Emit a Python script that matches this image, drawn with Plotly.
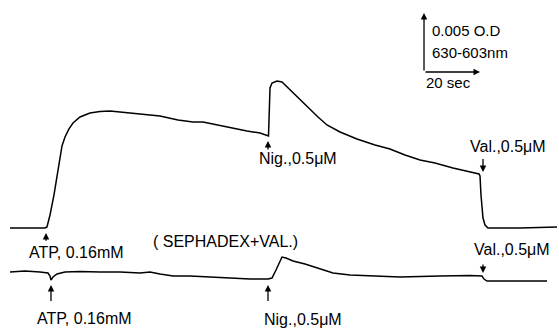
import plotly.graph_objects as go

# ---- data (time in s, absorbance change in units of 0.001 O.D.) ----
top_t = [0, 7.14, 12.5, 13.21, 14.29, 15.71, 16.79, 17.86, 18.57, 19.64, 21.07, 22.5, 25.0, 28.57,
         32.14, 35.71, 39.29, 42.86, 46.43, 50.0, 53.57, 60.0, 65.36, 68.93, 73.93, 79.64, 84.64,
         89.29, 91.79, 92.32, 92.5, 92.86, 93.57, 95.36, 97.14, 100.0, 102.86, 106.07, 110.0,
         113.21, 117.86, 123.93, 130.36, 135.71, 141.07, 146.43, 151.79, 158.21, 164.29, 167.5,
         167.86, 168.21, 168.93, 169.64, 170.71, 182.14, 195.36]
top_a = [8.62, 8.62, 8.62, 8.71, 9.74, 11.47, 12.93, 14.66, 15.69, 16.47, 17.16, 17.67, 18.19, 18.53,
         18.66, 18.71, 18.62, 18.53, 18.45, 18.36, 18.28, 17.93, 17.76, 17.76, 17.5, 17.24, 16.98,
         16.81, 16.55, 16.55, 17.93, 20.69, 21.12, 21.29, 21.21, 20.52, 19.83, 19.05, 18.19,
         17.5, 16.9, 16.29, 15.78, 15.43, 14.91, 14.48, 14.22, 13.79, 13.45, 13.28,
         13.1, 11.47, 9.48, 8.88, 8.62, 8.62, 8.71]

bot_t = [0, 5.36, 10.71, 13.57, 14.29, 14.64, 15.36, 16.79, 19.64, 25.0, 32.14, 39.29, 46.43, 50.0,
         53.57, 58.21, 64.29, 70.36, 75.0, 79.64, 85.71, 92.14, 93.57, 95.0, 96.43, 97.14, 98.57,
         101.07, 105.36, 109.64, 115.36, 121.43, 128.57, 139.29, 153.57, 164.29, 168.57, 169.29,
         170.36, 175.0, 182.14, 191.79]
bot_a = [4.83, 4.91, 4.83, 4.74, 4.48, 4.14, 4.40, 4.66, 4.83, 4.87, 4.83, 4.83, 4.74, 4.83,
         4.66, 4.48, 4.48, 4.40, 4.40, 4.31, 4.22, 4.22, 4.31, 5.0, 5.69, 6.12, 6.03,
         5.78, 5.52, 5.17, 4.74, 4.57, 4.48, 4.40, 4.48, 4.53, 4.48, 4.22,
         4.05, 4.05, 4.01, 4.05]

# additions: time, arrow tail A, arrow tip A, label, label time, label A
top_events_t = [12.86, 92.14, 168.93]
top_tail_a = [7.4, 15.25, 14.7]
top_tip_a = [8.19, 16.12, 13.45]
top_labels = ["ATP, 0.16mM", "Nig.,0.5μM", "Val.,0.5μM"]
top_label_t = [23.9, 103.0, 178.0]
top_label_a = [6.5, 14.6, 15.65]

bot_events_t = [14.64, 92.14, 168.93]
bot_tail_a = [2.2, 2.2, 5.60]
bot_tip_a = [3.71, 3.71, 4.74]
bot_labels = ["ATP, 0.16mM", "Nig.,0.5μM", "Val.,0.5μM"]
bot_label_t = [26.6, 104.6, 179.3]
bot_label_a = [0.8, 0.7, 6.75]

cond_label = "( SEPHADEX+VAL.)"
cond_pos = (77.1, 7.5)

# scale bar: 0.005 O.D. (5 units) and 20 s
bar_origin = (147.86, 22.07)
bar_od = 5.09
bar_sec = 20
bar_texts = ["0.005 O.D", "630-603nm", "20 sec"]

FONT = dict(family="Liberation Sans", size=16, color="black")
FONT_BAR = dict(family="Liberation Sans", size=15, color="black")

fig = go.Figure()
fig.add_trace(go.Scatter(x=top_t, y=top_a, mode="lines",
                         line=dict(color="black", width=1.5), hoverinfo="skip"))
fig.add_trace(go.Scatter(x=bot_t, y=bot_a, mode="lines",
                         line=dict(color="black", width=1.5), hoverinfo="skip"))

ann = []


def arrow(x, y, ax, ay):
    ann.append(dict(x=x, y=y, ax=ax, ay=ay, xref="x", yref="y", axref="x", ayref="y",
                    text="", showarrow=True, arrowhead=2, arrowsize=1.0, arrowwidth=1.3,
                    arrowcolor="black"))


def label(x, y, text, xanchor="center", font=FONT):
    ann.append(dict(x=x, y=y, xref="x", yref="y", text=text, showarrow=False,
                    font=font, xanchor=xanchor, yanchor="middle"))


for t, a0, a1, lab, lt, la in zip(top_events_t, top_tail_a, top_tip_a, top_labels, top_label_t, top_label_a):
    arrow(t, a1, t, a0)
    label(lt, la, lab)
for t, a0, a1, lab, lt, la in zip(bot_events_t, bot_tail_a, bot_tip_a, bot_labels, bot_label_t, bot_label_a):
    arrow(t, a1, t, a0)
    label(lt, la, lab)
label(cond_pos[0], cond_pos[1], cond_label)

bx, by = bar_origin
arrow(bx, by + bar_od, bx, by)
arrow(bx + bar_sec, by, bx, by)
label(bx + 2.1, 25.69, bar_texts[0], xanchor="left", font=FONT_BAR)
label(bx + 2.1, 23.79, bar_texts[1], xanchor="left", font=FONT_BAR)
label(bx, 21.2, bar_texts[2], xanchor="left", font=FONT_BAR)

fig.update_layout(
    width=559, height=328,
    margin=dict(l=0, r=0, t=0, b=0),
    paper_bgcolor="white", plot_bgcolor="white",
    showlegend=False,
    annotations=ann,
    xaxis=dict(range=[-10 / 2.8, 549 / 2.8], visible=False, fixedrange=True),
    yaxis=dict(range=[0, 328 / 11.6], visible=False, fixedrange=True),
)

fig.write_html("out.html", config={"displayModeBar": False},
               post_script="document.body.style.margin='0';document.body.style.padding='0';")
